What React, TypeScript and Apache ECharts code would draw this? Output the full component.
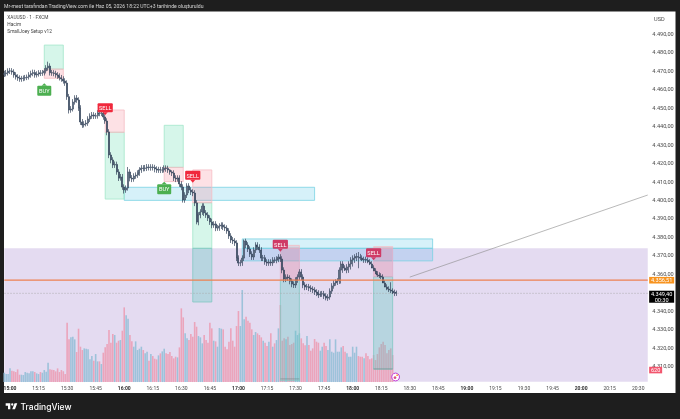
import React, { useEffect, useRef } from "react";
import * as echarts from "echarts";

const FIRST_MINUTE = -3; // minutes relative to 15:00
const LAST_MINUTE = 335;

const candleOpen = [4468.2,4468.5,4468.9,4469.9,4470.0,4469.4,4467.8,4466.7,4466.1,4465.6,4465.9,4466.1,4466.4,4466.7,4467.8,4468.6,4469.1,4467.8,4468.3,4468.9,4468.7,4468.9,4470.0,4471.6,4472.6,4469.0,4468.9,4468.6,4467.8,4467.2,4466.3,4465.6,4464.5,4463.4,4456.0,4448.8,4449.3,4453.1,4455.3,4454.2,4449.9,4442.3,4440.7,4441.2,4441.7,4443.9,4445.5,4446.1,4445.5,4445.7,4447.2,4447.0,4447.2,4445.0,4442.8,4436.9,4424.4,4421.7,4419.0,4419.3,4415.2,4411.9,4412.5,4407.0,4405.4,4406.5,4415.2,4411.9,4411.4,4413.0,4413.5,4414.6,4416.3,4417.3,4417.1,4417.4,4417.9,4417.6,4417.9,4417.6,4416.8,4416.3,4416.5,4416.2,4416.3,4417.3,4417.1,4416.3,4415.2,4414.6,4411.9,4411.4,4411.9,4408.7,4407.0,4400.0,4402.7,4407.6,4405.4,4404.3,4403.8,4398.4,4388.1,4391.9,4393.5,4396.7,4393.0,4391.9,4390.2,4388.1,4386.4,4387.0,4384.8,4385.0,4385.9,4386.4,4385.3,4384.8,4383.2,4380.5,4378.3,4377.8,4376.7,4368.5,4365.8,4366.0,4368.5,4377.8,4375.6,4373.4,4370.7,4369.1,4372.9,4375.6,4374.5,4372.9,4368.5,4368.7,4366.4,4365.8,4366.4,4365.9,4367.5,4367.3,4368.0,4369.1,4368.0,4362.0,4357.1,4358.2,4357.7,4356.0,4354.4,4353.9,4356.6,4358.2,4361.0,4358.2,4353.9,4352.8,4353.0,4352.3,4351.7,4351.2,4350.1,4349.6,4348.5,4349.0,4349.2,4347.9,4346.8,4347.4,4350.6,4353.4,4355.0,4355.5,4356.1,4362.0,4365.3,4363.1,4362.0,4363.7,4365.3,4367.5,4368.5,4369.1,4369.3,4369.0,4368.5,4367.5,4367.8,4367.4,4366.4,4365.3,4363.1,4361.5,4359.9,4359.3,4358.8,4358.2,4355.0,4352.8,4351.7,4351.2,4350.6,4349.6,4349.9];
const candleClose = [4468.5,4468.9,4469.9,4470.0,4469.4,4467.8,4466.7,4466.1,4465.6,4465.9,4466.1,4466.4,4466.7,4467.8,4468.6,4469.1,4467.8,4468.3,4468.9,4468.7,4468.9,4470.0,4471.6,4472.6,4469.0,4468.9,4468.6,4467.8,4467.2,4466.3,4465.6,4464.5,4463.4,4456.0,4448.8,4449.3,4453.1,4455.3,4454.2,4449.9,4442.3,4440.7,4441.2,4441.7,4443.9,4445.5,4446.1,4445.5,4445.7,4447.2,4447.0,4447.2,4445.0,4442.8,4436.9,4424.4,4421.7,4419.0,4419.3,4415.2,4411.9,4412.5,4407.0,4405.4,4406.5,4415.2,4411.9,4411.4,4413.0,4413.5,4414.6,4416.3,4417.3,4417.1,4417.4,4417.9,4417.6,4417.9,4417.6,4416.8,4416.3,4416.5,4416.2,4416.3,4417.3,4417.1,4416.3,4415.2,4414.6,4411.9,4411.4,4411.9,4408.7,4407.0,4400.0,4402.7,4407.6,4405.4,4404.3,4403.8,4398.4,4388.1,4391.9,4393.5,4396.7,4393.0,4391.9,4390.2,4388.1,4386.4,4387.0,4384.8,4385.0,4385.9,4386.4,4385.3,4384.8,4383.2,4380.5,4378.3,4377.8,4376.7,4368.5,4365.8,4366.0,4368.5,4377.8,4375.6,4373.4,4370.7,4369.1,4372.9,4375.6,4374.5,4372.9,4368.5,4368.7,4366.4,4365.8,4366.4,4365.9,4367.5,4367.3,4368.0,4369.1,4368.0,4362.0,4357.1,4358.2,4357.7,4356.0,4354.4,4353.9,4356.6,4358.2,4361.0,4358.2,4353.9,4352.8,4353.0,4352.3,4351.7,4351.2,4350.1,4349.6,4348.5,4349.0,4349.2,4347.9,4346.8,4347.4,4350.6,4353.4,4355.0,4355.5,4356.1,4362.0,4365.3,4363.1,4362.0,4363.7,4365.3,4367.5,4368.5,4369.1,4369.3,4369.0,4368.5,4367.5,4367.8,4367.4,4366.4,4365.3,4363.1,4361.5,4359.9,4359.3,4358.8,4358.2,4355.0,4352.8,4351.7,4351.2,4350.6,4349.6,4349.9,4349.4];
const candleLow = [4466.7,4467.0,4467.5,4468.3,4467.9,4466.3,4465.3,4464.6,4464.1,4464.1,4464.4,4464.7,4465.0,4465.3,4466.3,4467.1,4466.3,4466.4,4466.9,4467.2,4467.3,4467.5,4468.6,4470.1,4467.5,4467.3,4467.1,4466.3,4465.7,4464.8,4464.1,4463.1,4461.9,4454.3,4446.9,4447.3,4448.0,4451.7,4452.7,4448.3,4440.7,4439.1,4439.3,4439.9,4440.2,4442.3,4444.0,4443.9,4444.0,4444.1,4445.4,4445.5,4443.5,4441.3,4435.1,4422.7,4419.9,4417.3,4417.4,4413.7,4410.3,4410.5,4405.5,4403.5,4403.9,4405.1,4410.1,4409.7,4409.9,4411.5,4412.0,4413.1,4414.7,4415.5,4415.6,4415.7,4416.0,4415.9,4416.0,4415.0,4414.7,4414.7,4414.6,4414.7,4414.9,4415.3,4414.7,4413.7,4413.0,4410.3,4409.7,4410.0,4407.1,4405.3,4398.6,4398.5,4401.1,4403.7,4402.7,4402.1,4396.7,4386.8,4386.3,4390.1,4391.9,4391.3,4390.3,4388.6,4386.5,4384.7,4384.9,4383.1,4383.3,4383.3,4384.3,4383.7,4383.2,4381.7,4378.9,4376.7,4376.1,4375.1,4366.9,4364.2,4364.1,4364.3,4366.9,4373.9,4371.8,4369.1,4367.5,4367.5,4371.3,4373.0,4371.3,4366.9,4366.9,4364.9,4364.2,4364.3,4364.3,4364.3,4365.9,4365.7,4366.3,4366.4,4360.3,4355.4,4355.5,4356.1,4354.3,4352.7,4352.3,4352.3,4355.1,4356.7,4356.5,4352.2,4351.1,4351.2,4350.6,4350.1,4349.5,4348.5,4347.9,4346.9,4347.4,4347.5,4346.3,4345.6,4345.3,4345.9,4349.1,4351.9,4353.5,4353.9,4354.5,4354.7,4360.5,4361.5,4360.3,4360.5,4362.3,4363.9,4365.9,4366.9,4363.0,4367.4,4366.9,4365.9,4365.9,4365.7,4364.7,4363.7,4361.5,4359.9,4358.3,4357.7,4357.1,4356.5,4353.3,4351.1,4350.1,4349.5,4349.0,4347.9,4348.0,4348.2];
const candleHigh = [4470.1,4470.5,4471.4,4471.6,4471.5,4470.9,4469.3,4468.2,4467.6,4467.3,4467.5,4467.8,4468.0,4469.3,4470.1,4470.7,4470.6,4469.8,4470.4,4470.4,4470.5,4471.5,4473.1,4475.0,4474.1,4470.5,4470.4,4470.1,4469.3,4468.7,4467.8,4467.1,4466.0,4464.9,4457.5,4450.9,4454.7,4456.8,4456.9,4455.7,4451.4,4443.9,4442.7,4443.3,4445.4,4447.0,4447.7,4447.6,4447.2,4448.7,4448.7,4448.7,4448.7,4446.5,4444.3,4438.4,4425.9,4423.2,4420.9,4420.8,4416.7,4414.1,4414.1,4408.5,4407.9,4417.9,4416.7,4413.5,4414.5,4415.0,4416.1,4417.8,4418.9,4418.9,4419.0,4419.5,4419.4,4419.4,4419.4,4419.1,4418.3,4418.0,4418.0,4417.9,4418.8,4418.8,4418.6,4416.7,4416.1,4416.1,4413.4,4413.4,4413.4,4410.2,4408.5,4404.2,4409.1,4409.1,4406.9,4405.8,4405.3,4399.9,4393.4,4395.0,4398.2,4398.2,4394.5,4393.4,4391.7,4389.9,4388.5,4388.5,4386.5,4387.4,4387.9,4387.9,4386.8,4386.3,4384.7,4382.0,4379.9,4379.3,4378.2,4370.0,4367.6,4370.0,4378.6,4379.0,4377.1,4374.9,4372.2,4374.4,4377.1,4377.1,4376.0,4374.4,4370.2,4370.2,4367.9,4367.9,4367.9,4369.0,4369.0,4369.5,4370.6,4370.6,4369.5,4363.5,4359.7,4359.7,4359.2,4357.5,4355.9,4358.1,4359.7,4362.5,4362.5,4359.7,4355.4,4354.5,4354.5,4353.8,4353.2,4352.7,4351.6,4351.1,4350.5,4350.7,4350.7,4349.4,4348.9,4352.1,4354.9,4356.5,4357.0,4357.6,4363.5,4366.8,4366.8,4364.6,4365.2,4366.8,4369.0,4370.0,4370.6,4371.3,4371.8,4370.8,4370.0,4369.3,4369.3,4368.9,4367.9,4366.8,4364.6,4363.0,4361.4,4360.8,4360.3,4359.7,4356.5,4354.3,4353.2,4355.4,4352.1,4351.4,4350.9];
const volumeBars = [28,24,24,41,34,32,30,38,22,22,21,30,28,26,32,32,30,26,24,30,28,36,31,58,38,37,36,32,41,30,36,32,24,178,128,134,136,128,90,160,106,96,101,100,98,68,78,64,84,62,62,54,88,104,114,156,118,144,141,118,124,126,154,224,200,190,141,122,106,122,96,100,106,96,86,91,64,84,78,70,68,80,86,92,100,86,84,90,78,71,76,74,104,221,194,146,131,126,144,136,180,166,138,134,116,141,126,118,178,161,124,122,106,162,160,158,106,98,121,161,124,106,168,213,168,276,188,196,184,178,158,141,150,146,141,134,124,118,108,121,146,106,116,126,161,231,124,131,128,136,111,114,118,154,141,146,131,116,110,138,111,94,101,129,121,118,94,106,118,108,96,128,91,88,128,91,91,104,108,91,86,76,76,106,88,106,78,76,76,71,86,78,68,71,81,66,84,104,114,121,111,86,96,101,81];

const priceTicks = [4490,4480,4470,4460,4450,4440,4430,4420,4410,4400,4390,4380,4370,4360,4340,4330,4320,4310];

// rows: start minute, end minute, top price, bottom price
const greenBoxes = [[18,28,4484,4471],[50,60,4436.7,4400.5],[81,91,4440.5,4417.7],[96,106,4398.5,4373.8]];
const greenInZone = [[96,106,4373.8,4344.7],[142,152,4356.6,4302],[191,201,4358.4,4308.3]];
const redBoxes = [[18,28,4471,4466],[50,60,4448.8,4436.7],[81,91,4417.7,4410],[96,106,4416.3,4398.5],[142,152,4375.4,4373.8],[191,201,4374.7,4373.8]];
const redInZone = [[142,152,4373.8,4356.6],[191,201,4373.8,4358.4]];
const cyanBoxes = [[60,160,4406.9,4399.8],[122,222,4378.9,4373.8]];
const cyanInZone = [[122,222,4373.8,4367]];
const lilacZone = [[-3,335,4373.8,4301.4]];

// rows: minute, price of the arrow tip
const buyLabels = [[18,4463.3],[81,4409.9]];
const sellLabels = [[50,4446.1],[96,4409.4]];
const mutedSellLabels = [[142,4372],[191,4367.4]];

const lastPrice = 4349.4;
const levelPrice = 4356.51;
// rows: start minute, start price, end minute, end price
const trendLine = [[210,4358.2,335,4402.7]];
const orangeLine = [[-3,levelPrice,335,levelPrice]];
const dottedLine = [[-3,lastPrice,335,lastPrice]];
const stopLines = [[142,4303,152,4303],[191,4308.4,201,4308.4]];

const FONT = "Roboto, 'Noto Sans', sans-serif";
const idx = (m: number) => m - FIRST_MINUTE;
const minuteLabel = (m: number) => {
  const t = 15 * 60 + m;
  return `${String(Math.floor(t / 60)).padStart(2, "0")}:${String(t % 60).padStart(2, "0")}`;
};
const categories: string[] = [];
for (let m = FIRST_MINUTE; m <= LAST_MINUTE; m++) categories.push(minuteLabel(m));
const priceText = (v: number) => {
  const s = v.toFixed(2).replace(".", ",");
  return `${s.slice(0, 1)}.${s.slice(1)}`;
};

function boxSeries(rows: number[][], fill: string, stroke: string, z: number) {
  return {
    type: "custom",
    z,
    silent: true,
    clip: false,
    encode: { x: [0, 1], y: [2, 3] },
    data: rows.map((r) => [idx(r[0]), idx(r[1]), r[2], r[3]]),
    renderItem: (_: any, api: any) => {
      const a = api.coord([api.value(0), api.value(2)]);
      const b = api.coord([api.value(1), api.value(3)]);
      return {
        type: "rect",
        shape: { x: a[0], y: a[1], width: b[0] - a[0], height: b[1] - a[1] },
        style: { fill, stroke, lineWidth: stroke === "none" ? 0 : 0.8 },
      };
    },
  };
}

function segmentSeries(rows: number[][], stroke: string, lineWidth: number, z: number, dash?: number[]) {
  return {
    type: "custom",
    z,
    silent: true,
    clip: false,
    encode: { x: [0, 2], y: [1, 3] },
    data: rows.map((r) => [idx(r[0]), r[1], idx(r[2]), r[3]]),
    renderItem: (_: any, api: any) => {
      const a = api.coord([api.value(0), api.value(1)]);
      const b = api.coord([api.value(2), api.value(3)]);
      return {
        type: "line",
        shape: { x1: a[0], y1: a[1], x2: b[0], y2: b[1] },
        style: { stroke, lineWidth, lineDash: dash, fill: "none" },
      };
    },
  };
}

function signalSeries(rows: number[][], text: string, fill: string, z: number) {
  const isSell = text === "SELL";
  const w = isSell ? 15.2 : 14;
  const h = isSell ? 9 : 10;
  return {
    type: "custom",
    z,
    silent: true,
    clip: false,
    encode: { x: 0, y: 1 },
    data: rows.map((r) => [idx(r[0]), r[1]]),
    renderItem: (_: any, api: any) => {
      const p = api.coord([api.value(0), api.value(1)]);
      const top = isSell ? p[1] - 2.8 - h : p[1] + 2.4;
      const arrowBase = isSell ? p[1] - 2.8 : p[1] + 2.4;
      return {
        type: "group",
        children: [
          { type: "rect", shape: { x: p[0] - w / 2, y: top, width: w, height: h, r: 1 }, style: { fill } },
          { type: "polygon", shape: { points: [[p[0] - 2.6, arrowBase], [p[0] + 2.6, arrowBase], [p[0], p[1]]] }, style: { fill } },
          {
            type: "text",
            style: {
              x: p[0], y: top + h / 2 + 0.2, text, fill: "#ffffff",
              fontSize: 5.6, fontFamily: FONT, align: "center", verticalAlign: "middle",
            },
          },
        ],
      };
    },
  };
}

const axisTags = [
  { price: levelPrice, lines: priceText(levelPrice), fill: "#f7931e" },
  { price: lastPrice, lines: `${priceText(lastPrice)}\n00:30`, fill: "#000000" },
  { price: 4307.8, lines: "620", fill: "#f2566e" },
];

function tagSeries() {
  return {
    type: "custom",
    z: 9,
    silent: true,
    clip: false,
    encode: { x: 0, y: 1 },
    data: axisTags.map((t) => [idx(LAST_MINUTE), t.price]),
    renderItem: (params: any, api: any) => {
      const t = axisTags[params.dataIndex];
      const p = api.coord([api.value(0), api.value(1)]);
      const x = p[0] + 1.4;
      const two = t.lines.includes("\n");
      const narrow = t.lines.length < 4;
      const width = narrow ? 13 : 25;
      const top = two ? p[1] - 2.6 : p[1] - 3.3;
      const height = two ? 12 : 6.6;
      return {
        type: "group",
        children: [
          { type: "rect", shape: { x, y: top, width, height }, style: { fill: t.fill } },
          {
            type: "text",
            style: {
              x: x + width / 2, y: top + height / 2 + 0.1, text: t.lines, fill: "#ffffff",
              fontSize: 5.6, lineHeight: 6, fontFamily: FONT, align: "center", verticalAlign: "middle",
            },
          },
        ],
      };
    },
  };
}

const TITLE = "Mr-mest tarafından TradingView.com ile Haz 05, 2026 18:22 UTC+3 tarihinde oluşturuldu";
const LEGEND = ["XAUUSD · 1 · FXCM", "Hacim", "SmallJoey Setup v12"];
const LOGO_D = "M14 6H2v6h6v9h6V6Zm12 15h-7l6-15h7l-6 15Zm-7-9a3 3 0 1 0 0-6 3 3 0 0 0 0 6Z";

export default function App() {
  const ref = useRef<HTMLDivElement>(null);
  useEffect(() => {
    document.body.style.margin = "0";
    document.body.style.background = "#1e1e1e";
    echarts.graphic.registerShape("tvlogo", echarts.graphic.extendPath(LOGO_D, {}) as any);
    const chart = echarts.init(ref.current!, undefined, { renderer: "svg" });
    const ohlc = candleOpen.map((o, i) => [o, candleClose[i], candleLow[i], candleHigh[i]]);
    const volume = volumeBars.map((v, i) => ({
      value: v,
      itemStyle: { color: candleClose[i] >= candleOpen[i] ? "#9dc2da" : "#eba4bb" },
    }));
    chart.setOption({
      animation: false,
      backgroundColor: "#1e1e1e",
      grid: { left: 3.34, width: 645.36, top: 15.56, height: 368.88, containLabel: false },
      xAxis: {
        type: "category",
        data: categories,
        boundaryGap: true,
        axisLine: { show: false },
        axisTick: { show: false },
        splitLine: { show: false },
        axisLabel: {
          margin: 0.8,
          interval: (i: number) => (i + FIRST_MINUTE) % 15 === 0 && i + FIRST_MINUTE >= 0,
          hideOverlap: false,
          color: "#4a4a4a",
          fontSize: 5,
          fontFamily: FONT,
          formatter: (v: string) => (v.endsWith(":00") ? `{b|${v}}` : v),
          rich: { b: { fontWeight: 700, fontSize: 5, fontFamily: FONT, color: "#303030" } },
        },
      },
      yAxis: [
        {
          type: "value",
          position: "right",
          min: 4300,
          max: 4500,
          interval: 10,
          axisLine: { show: false },
          axisTick: { show: false },
          splitLine: { show: false },
          axisLabel: {
            margin: 3.6,
            color: "#4a4a4a",
            fontSize: 5.6,
            fontFamily: FONT,
            formatter: (v: number) => (priceTicks.includes(v) ? priceText(v) : ""),
          },
        },
        {
          type: "value",
          position: "left",
          min: -7.2,
          max: 1099.3,
          show: false,
          splitLine: { show: false },
        },
      ],
      graphic: [
        { type: "rect", z: -1, silent: true, shape: { x: 4, y: 11.5, width: 671.5, height: 381.5 }, style: { fill: "#ffffff" } },
        { type: "text", z: 20, silent: true, style: { x: 4, y: 6, text: TITLE, fill: "#d8d8d8", fontSize: 5.1, fontFamily: FONT, verticalAlign: "middle" } },
        ...LEGEND.map((t, i) => ({
          type: "text", z: 20, silent: true,
          style: { x: 7.3, y: 17.3 + i * 7, text: t, fill: "#444444", fontSize: 4.8, fontFamily: FONT, verticalAlign: "middle" },
        })),
        { type: "text", z: 20, silent: true, style: { x: 654, y: 18.5, text: "USD", fill: "#4a4a4a", fontSize: 5.6, fontFamily: FONT, verticalAlign: "middle" } },
        { type: "tvlogo", z: 20, silent: true, x: 4.9, y: 401, scaleX: 0.387, scaleY: 0.387, style: { fill: "#ffffff" } },
        { type: "text", z: 20, silent: true, style: { x: 20.5, y: 406.5, text: "TradingView", fill: "#ffffff", fontSize: 8.5, fontWeight: 500, fontFamily: "Inter, sans-serif", verticalAlign: "middle" } },
        {
          type: "group", z: 20, silent: true, x: 395.6, y: 377,
          children: [
            { type: "circle", z: 20, shape: { cx: 0, cy: 0, r: 3.9 }, style: { fill: "#ffffff", stroke: "#c43ad6", lineWidth: 1 } },
            { type: "circle", z: 21, shape: { cx: -0.6, cy: 0.6, r: 1.4 }, style: { fill: "#d94f8a" } },
            { type: "circle", z: 21, shape: { cx: 1.5, cy: -1.8, r: 0.8 }, style: { fill: "#f7931e" } },
          ],
        },
      ],
      series: [
        boxSeries(lilacZone, "#e4dbf1", "none", 1),
        {
          type: "bar",
          yAxisIndex: 1,
          z: 2,
          barWidth: 1.6,
          silent: true,
          data: volume,
        },
        boxSeries(cyanBoxes, "rgba(120,210,235,0.3)", "#78d2e2", 3),
        boxSeries(cyanInZone, "rgba(120,190,240,0.3)", "#78d2e2", 3),
        boxSeries(greenBoxes, "rgba(70,215,160,0.22)", "#a2e6c9", 3),
        boxSeries(greenInZone, "rgba(90,200,190,0.33)", "#82c8c3", 3),
        boxSeries(redBoxes, "rgba(245,120,135,0.22)", "#f5bcc4", 3),
        boxSeries(redInZone, "rgba(225,110,140,0.28)", "#deb0ca", 3),
        segmentSeries(dottedLine, "#a8a8a8", 0.6, 4, [1.5, 1.5]),
        segmentSeries(stopLines, "#6f8a8a", 0.6, 4),
        {
          type: "candlestick",
          z: 5,
          silent: true,
          barWidth: 1.5,
          data: ohlc,
          itemStyle: {
            color: "#aab4c0",
            color0: "#33445a",
            borderColor: "#33445a",
            borderColor0: "#33445a",
            borderWidth: 0.7,
          },
        },
        segmentSeries(orangeLine, "#ee8050", 1.3, 6),
        segmentSeries(trendLine, "#8a8a8a", 0.6, 6),
        signalSeries(buyLabels, "BUY", "#4caf50", 7),
        signalSeries(sellLabels, "SELL", "#f0283c", 7),
        signalSeries(mutedSellLabels, "SELL", "#cf3a66", 7),
        tagSeries(),
      ],
    });
    return () => chart.dispose();
  }, []);
  return <div ref={ref} style={{ position: "fixed", left: 0, top: 0, width: 680, height: 419, filter: "blur(0.3px)" }} />;
}
